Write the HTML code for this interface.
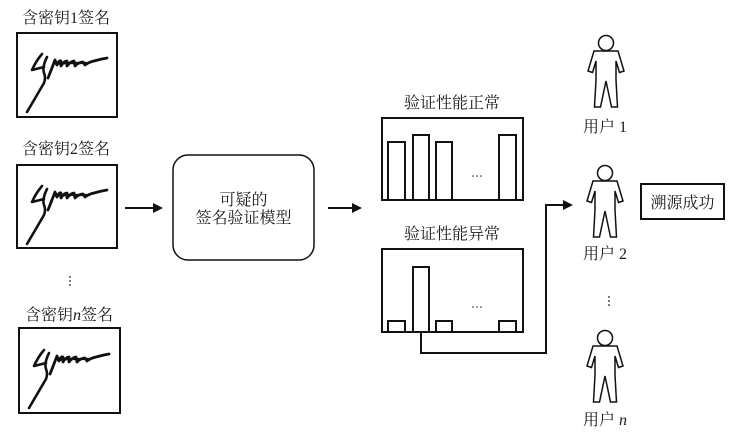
<!DOCTYPE html>
<html><head><meta charset="utf-8"><style>
html,body{margin:0;padding:0;background:#fff;}
svg{display:block;}
text{font-family:"Liberation Serif","Noto Serif CJK SC",serif;font-size:16px;fill:#1a1a1a;}
</style></head><body>
<svg width="735" height="436" viewBox="0 0 735 436" xmlns="http://www.w3.org/2000/svg">
<defs>
<g id="sig" fill="none" stroke="#111" stroke-linecap="round" stroke-linejoin="round">
  <path d="M10,79 L27,50 Q29,45 27,40 Q25,34 30,24" stroke-width="2.6"/>
  <path d="M25,21 Q19,28 15,37 L27,34" stroke-width="2.6"/>
  <path d="M31,45 Q35,35 38,27 L40,32 Q42,27 44,28 L44,33 Q47,28 50,28 L50,33 Q54,28 57,28 L58,33 Q62,29 66,29 L68,32 Q72,29 77,28 Q84,26 90,25" stroke-width="2.8"/>
  <path d="M39,31 L50,30 L60,30 L70,30" stroke-width="2.2"/>
</g>
<g id="person" fill="none" stroke="#111" stroke-width="1.5" stroke-linejoin="miter">
  <circle cx="0" cy="0" r="7.5"/>
  <path d="M-12,8 L12,8 L18,28 L13.5,29.5 L10,18 L10,37 L11.5,64 L5.5,64 L0,38 L-5.5,64 L-11.5,64 L-10,37 L-10,18 L-13.5,29.5 L-18,28 Z"/>
</g>
</defs>

<!-- signature labels and boxes -->
<text x="66" y="23" text-anchor="middle">含密钥1签名</text>
<rect x="17" y="33" width="100" height="84" fill="none" stroke="#111" stroke-width="2"/>
<use href="#sig" x="17" y="33"/>

<text x="66" y="154" text-anchor="middle">含密钥2签名</text>
<rect x="17" y="165" width="100" height="83" fill="none" stroke="#111" stroke-width="2"/>
<use href="#sig" x="17" y="165"/>

<circle cx="70" cy="277" r="0.9" fill="#222"/>
<circle cx="70" cy="281" r="0.9" fill="#222"/>
<circle cx="70" cy="285" r="0.9" fill="#222"/>

<text x="69" y="320" text-anchor="middle">含密钥<tspan font-style="italic">n</tspan>签名</text>
<rect x="19" y="328" width="101" height="85" fill="none" stroke="#111" stroke-width="2"/>
<use href="#sig" x="19" y="329"/>

<!-- arrow 1 -->
<line x1="125" y1="208" x2="154" y2="208" stroke="#111" stroke-width="2"/>
<polygon points="153,203 163,208 153,213" fill="#111"/>

<!-- model box -->
<rect x="173" y="155" width="141" height="105" rx="15" ry="15" fill="none" stroke="#111" stroke-width="1.5"/>
<text x="243.5" y="205" text-anchor="middle">可疑的</text>
<text x="243.5" y="223" text-anchor="middle">签名验证模型</text>

<!-- arrow 2 -->
<line x1="328" y1="208" x2="353" y2="208" stroke="#111" stroke-width="2"/>
<polygon points="352,203 362,208 352,213" fill="#111"/>

<!-- normal chart -->
<text x="452" y="108" text-anchor="middle">验证性能正常</text>
<g fill="none" stroke="#111" stroke-width="2">
  <rect x="382" y="118" width="141" height="82"/>
  <rect x="388" y="142" width="17" height="58"/>
  <rect x="413" y="135" width="16" height="65"/>
  <rect x="436" y="142" width="16" height="58"/>
  <rect x="499" y="135" width="17" height="65"/>
</g>
<circle cx="473" cy="176" r="0.8" fill="#222"/>
<circle cx="477" cy="176" r="0.8" fill="#222"/>
<circle cx="481" cy="176" r="0.8" fill="#222"/>

<!-- abnormal chart -->
<text x="452" y="239" text-anchor="middle">验证性能异常</text>
<g fill="none" stroke="#111" stroke-width="2">
  <rect x="382" y="249" width="141" height="83"/>
  <rect x="388" y="321" width="17" height="11"/>
  <rect x="413" y="267" width="16" height="65"/>
  <rect x="436" y="321" width="16" height="11"/>
  <rect x="499" y="321" width="17" height="11"/>
</g>
<circle cx="473" cy="307" r="0.8" fill="#222"/>
<circle cx="477" cy="307" r="0.8" fill="#222"/>
<circle cx="481" cy="307" r="0.8" fill="#222"/>

<!-- connector -->
<polyline points="421,332 421,353 546,353 546,205 564,205" fill="none" stroke="#111" stroke-width="2"/>
<polygon points="563,200 573,205 563,210" fill="#111"/>

<!-- users -->
<use href="#person" x="606" y="43"/>
<text x="605" y="132" text-anchor="middle">用户 1</text>

<use href="#person" x="605" y="173"/>
<text x="605" y="259" text-anchor="middle">用户 2</text>

<circle cx="609" cy="297" r="0.9" fill="#222"/>
<circle cx="609" cy="301" r="0.9" fill="#222"/>
<circle cx="609" cy="305" r="0.9" fill="#222"/>

<use href="#person" x="605" y="338"/>
<text x="605" y="425" text-anchor="middle">用户 <tspan font-style="italic">n</tspan></text>

<!-- success box -->
<rect x="641" y="184" width="83" height="35" fill="none" stroke="#111" stroke-width="2"/>
<text x="682.5" y="208" text-anchor="middle">溯源成功</text>
</svg>
</body></html>
